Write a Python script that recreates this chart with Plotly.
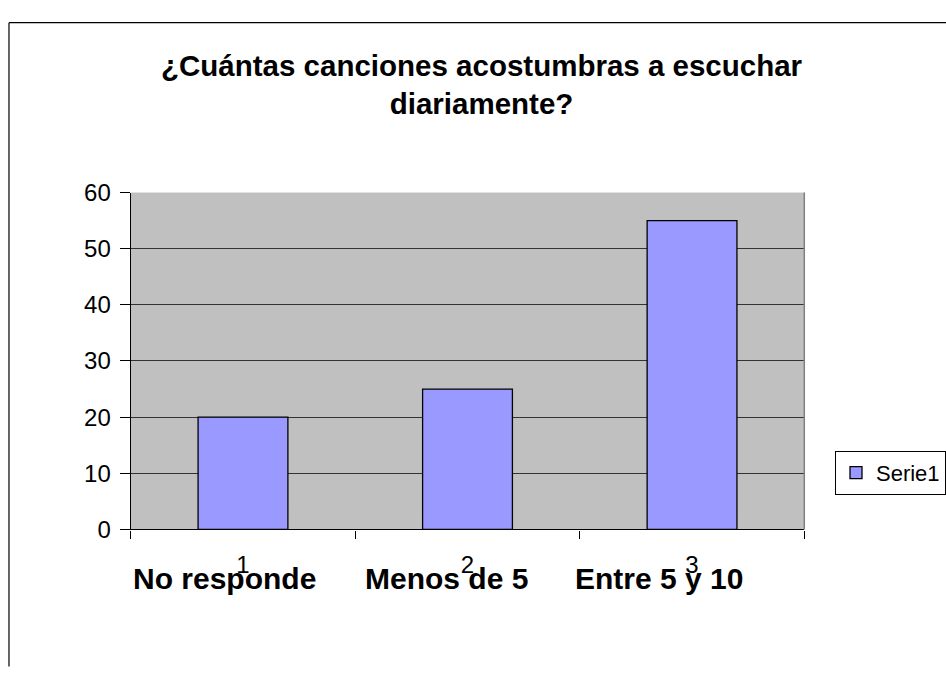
import plotly.graph_objects as go

categories = ["1", "2", "3"]
category_names = ["No responde", "Menos de 5", "Entre 5 y 10"]
values = [20, 25, 55]
y_ticks = [0, 10, 20, 30, 40, 50, 60]
series_name = "Serie1"
title_text = "¿Cuántas canciones acostumbras a escuchar<br>diariamente?"

W, H = 946, 673
FONT = "Liberation Sans, Arial, sans-serif"

fig = go.Figure()
fig.add_trace(go.Bar(
    x=categories, y=values, name=series_name,
    width=0.4,
    marker=dict(color="#9999FF", line=dict(color="black", width=1.3)),
    showlegend=True,
))

# bold category names under the axis (category index positions)
shifts = [-18, -21, -33]
for i, (n, s) in enumerate(zip(category_names, shifts)):
    fig.add_annotation(x=i, y=1 - 588 / H, xref="x", yref="paper", text="<b>%s</b>" % n,
                       showarrow=False, xshift=s, yanchor="middle",
                       font=dict(family=FONT, size=30, color="black"))

fig.add_annotation(x=483 / W, y=1 - 73 / H, xref="paper", yref="paper", text="<b>%s</b>" % title_text,
                   showarrow=False, xanchor="center", yanchor="middle",
                   font=dict(family=FONT, size=29.5, color="black"))

# outer chart border (top and left)
fig.add_shape(type="line", xref="paper", yref="paper", x0=9 / W, x1=1.01, y0=1 - 9 / H, y1=1 - 9 / H,
              line=dict(color="black", width=1.2))
fig.add_shape(type="line", xref="paper", yref="paper", x0=9 / W, x1=9 / W, y0=1 - 9 / H, y1=-0.01,
              line=dict(color="black", width=1.2))
# plot area right edge
fig.add_shape(type="line", xref="paper", yref="paper", x0=806 / W, x1=806 / W,
              y0=136 / H, y1=487 / H, line=dict(color="#808080", width=1.5))

fig.update_layout(
    width=W, height=H,
    margin=dict(l=0, r=0, t=0, b=0),
    paper_bgcolor="white", plot_bgcolor="#C0C0C0",
    font=dict(family=FONT, color="black"),
    xaxis=dict(domain=[131 / W, 806 / W], type="category", tickson="boundaries",
               ticks="outside", ticklen=8, tickcolor="black", tickwidth=1,
               showline=True, linecolor="black", linewidth=1.2, showgrid=False,
               tickfont=dict(size=24, family=FONT), ticklabelstandoff=14,
               range=[-0.5, 2.5]),
    yaxis=dict(domain=[136 / H, 487 / H], range=[0, 60], tickvals=y_ticks,
               ticks="outside", ticklen=10, tickcolor="black", tickwidth=1,
               showline=True, linecolor="black", linewidth=1.2,
               showgrid=True, gridcolor="#333333", gridwidth=1, zeroline=False,
               tickfont=dict(size=24, family=FONT), ticklabelstandoff=4),
    legend=dict(x=837 / W, y=1 - 455 / H, xanchor="left", yanchor="top",
                bordercolor="black", borderwidth=1, bgcolor="white",
                font=dict(size=22, family=FONT), itemwidth=30,
                tracegroupgap=0),
)

post = (
    "var d=document.getElementById('{plot_id}');"
    "d.style.position='fixed';d.style.top='0px';d.style.left='0px';"
    "document.documentElement.style.overflow='hidden';"
    "document.body.style.margin='0';document.body.style.overflow='hidden';"
)
fig.write_html("out.html", config={"displayModeBar": False}, post_script=post)
